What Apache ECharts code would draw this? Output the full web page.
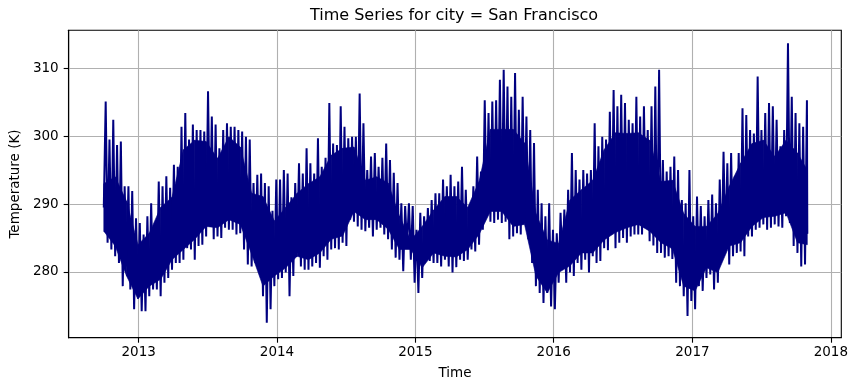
<!DOCTYPE html>
<html>
<head>
<meta charset="utf-8">
<script src="https://cdn.jsdelivr.net/npm/echarts@6/dist/echarts.min.js"></script>
<style>html,body{margin:0;padding:0;background:#fff}#c{width:858px;height:391px}</style>
</head>
<body>
<div id="c"></div>
<script>
// Hourly temperature trace: one low and one high per 10-day block
const startDate = '2012-10-01';
const stepDays = 10;
const endDate = '2017-10-31';
const endValue = 285.6;
const yearTicks = ['2013-01-01','2014-01-01','2015-01-01','2016-01-01','2017-01-01','2018-01-01'];
const tempTicks = [280, 290, 300, 310];

const highs = [
  305.1, 299.5, 302.4, 298.7, 299.2, 292.6, 292.6, 291.9, 287.9, 287.2, 285.5, 288.2, 290.1, 287.2, 293.3, 292.6, 294.1, 292.4, 295.8, 295.5,
  301.4, 303.4, 299.5, 301.7, 300.9, 300.9, 300.7, 306.6, 302.9, 301.7, 298.2, 300.9, 301.9, 301.4, 301.4, 300.9, 300.7, 299.9,
  299.5, 293.1, 294.3, 294.5, 293.1, 292.6, 289.0, 293.6, 293.6, 295.0, 294.5, 291.0, 293.1, 296.0, 294.5, 298.2, 296.0, 294.5, 299.7, 295.5,
  296.8, 304.9, 298.9, 298.7, 304.4, 301.4, 299.7, 299.9, 299.9, 306.3, 301.9, 295.0, 297.0, 297.5, 295.5, 296.8, 298.9, 296.5, 294.6,
  293.1, 290.1, 289.7, 290.1, 289.7, 286.2, 288.7, 288.2, 289.4, 290.6, 291.6, 291.6, 293.6, 292.6, 294.3, 292.6, 293.3, 295.5, 292.1, 288.9,
  292.6, 297.0, 294.8, 305.3, 303.4, 305.1, 305.3, 308.3, 309.8, 307.3, 305.8, 309.3, 303.9, 305.8, 302.9, 300.9, 299.0, 292.1,
  290.1, 288.2, 290.1, 286.2, 285.7, 288.7, 289.2, 292.1, 297.5, 295.0, 293.6, 295.0, 294.5, 295.0, 301.9, 298.5, 299.9, 299.5, 303.6, 306.8,
  304.4, 306.1, 304.9, 302.4, 301.9, 305.8, 302.9, 304.4, 300.9, 304.4, 307.3, 309.8, 296.5, 294.8, 295.5, 297.0, 295.0, 290.6,
  290.1, 295.0, 288.2, 291.1, 289.7, 288.2, 290.6, 291.4, 290.1, 293.6, 297.7, 296.0, 297.5, 294.1, 297.5, 304.1, 303.1, 300.9, 300.4, 308.8,
  300.9, 303.4, 304.9, 304.4, 302.4, 298.5, 300.9, 313.7, 305.8, 303.4, 301.9, 301.4, 305.3
];
const lows = [
  289.5, 284.3, 283.3, 282.3, 281.3, 277.9, 280.8, 277.4, 274.5, 276.4, 274.2, 274.2, 276.4, 277.4, 277.4, 276.4, 278.4, 279.1, 280.3, 281.3,
  281.3, 281.8, 283.5, 283.3, 281.8, 283.8, 284.0, 285.2, 286.7, 284.8, 285.2, 285.0, 286.5, 286.2, 286.2, 285.5, 285.7, 283.3,
  281.1, 280.8, 281.3, 280.1, 276.4, 272.5, 274.5, 277.9, 278.9, 279.1, 279.9, 276.4, 279.4, 282.8, 280.8, 280.3, 280.3, 280.8, 281.3, 280.6,
  282.3, 281.8, 283.3, 283.5, 283.3, 284.3, 283.8, 287.7, 287.4, 286.7, 286.2, 286.0, 286.5, 285.2, 286.2, 286.5, 285.5, 284.8, 283.3,
  282.1, 281.8, 280.1, 283.8, 281.8, 278.4, 276.9, 279.1, 281.8, 281.6, 281.3, 281.3, 280.8, 281.8, 280.8, 279.9, 280.7, 281.8, 281.6, 281.8,
  283.3, 283.0, 284.0, 286.2, 288.4, 287.4, 287.2, 287.7, 287.2, 287.4, 284.8, 285.2, 285.7, 285.5, 287.2, 284.8, 281.3, 277.9,
  276.9, 275.4, 276.9, 274.9, 274.5, 278.4, 280.8, 278.4, 279.9, 279.4, 281.3, 280.3, 281.8, 279.9, 282.3, 281.3, 281.6, 283.5, 283.2, 285.7,
  283.5, 284.3, 285.0, 284.3, 285.2, 285.5, 285.5, 285.5, 287.0, 284.5, 283.9, 282.8, 282.8, 282.1, 282.3, 281.9, 278.4, 277.9,
  276.4, 273.5, 275.7, 274.5, 277.9, 277.2, 279.1, 279.6, 277.4, 278.4, 282.1, 283.3, 281.1, 282.3, 282.8, 283.0, 282.3, 285.2, 285.2, 286.2,
  286.5, 287.0, 286.2, 286.5, 287.0, 286.7, 286.5, 288.2, 287.2, 283.8, 282.8, 280.8, 281.1
];

// Solid (fully overplotted) part of the trace, read every 30 days (last entry at endDate)
const coreStepDays = 30;
const coreTop = [
  293.0, 294.0, 290.4, 284.0, 285.7, 289.5, 291.0, 298.0, 299.4, 299.2, 296.7, 299.9, 298.4, 291.6, 291.1, 287.5,
  289.5, 291.6, 293.0, 294.0, 297.2, 298.2, 298.4, 293.5, 294.0, 293.1, 288.2, 284.7, 286.7, 289.1, 291.1, 291.1,
  289.5, 293.3, 301.0, 301.0, 301.0, 299.0, 288.6, 284.7, 284.2, 290.6, 292.1, 293.5, 298.0, 300.5, 300.4, 300.5,
  299.4, 293.3, 293.5, 288.6, 286.7, 286.7, 288.6, 292.6, 296.0, 298.9, 299.4, 297.0, 299.4, 297.5, 295.0
];
const coreBottom = [
  286.0, 283.8, 279.4, 276.0, 277.9, 278.9, 281.8, 283.3, 284.8, 286.7, 286.5, 287.7, 287.0, 282.6, 277.9, 279.4,
  280.6, 282.3, 281.8, 282.8, 284.8, 285.3, 288.9, 287.7, 287.7, 286.3, 283.3, 283.3, 280.6, 282.8, 282.3, 282.2,
  283.3, 285.5, 288.9, 288.9, 286.7, 287.0, 279.4, 276.9, 279.9, 280.9, 282.8, 282.8, 284.7, 285.8, 286.5, 287.0,
  286.0, 284.3, 283.4, 277.9, 277.2, 280.6, 279.9, 283.8, 284.3, 286.7, 288.0, 288.2, 288.7, 284.3, 284.0
];

const DAY = 86400000;
const t0 = Date.parse(startDate + 'T00:00:00Z');
const tEnd = Date.parse(endDate + 'T00:00:00Z');

// zig-zag trace: each block swings from its low to its high
const trace = [];
for (let k = 0; k < lows.length; k++) {
  trace.push([t0 + k * stepDays * DAY, lows[k]]);
  trace.push([t0 + (k * stepDays + stepDays / 2) * DAY, highs[k]]);
}
trace.push([tEnd, endValue]);

// solid core band, one quad per 30-day step
const coreTime = m => (m === coreTop.length - 1 ? tEnd : t0 + m * coreStepDays * DAY);
const core = [];
for (let m = 0; m + 1 < coreTop.length; m++) {
  core.push([coreTime(m), coreBottom[m], coreTop[m], coreTime(m + 1), coreBottom[m + 1], coreTop[m + 1]]);
}

const xTicks = yearTicks.map(d => Date.parse(d + 'T00:00:00Z'));
const FONT = 'DejaVu Sans';
const NAVY = '#000080';

const chart = echarts.init(document.getElementById('c'), null, {renderer: 'canvas'});
chart.setOption({
  animation: false,
  backgroundColor: '#fff',
  graphic: [{
    type: 'text', x: 454, y: 16,
    style: {text: 'Time Series for city = San Francisco', font: '16px "DejaVu Sans"', fill: '#000',
            textAlign: 'center', textVerticalAlign: 'middle'}
  }],
  grid: {left: 66.7, right: 16.7, top: 30.3, bottom: 53.3, show: true, borderColor: '#000', borderWidth: 1.1, backgroundColor: 'transparent'},
  xAxis: {
    type: 'value',
    min: Date.parse('2012-06-30T08:00:00Z'),
    max: Date.parse('2018-01-28T16:00:00Z'),
    name: 'Time', nameLocation: 'middle', nameGap: 29,
    nameTextStyle: {fontFamily: FONT, fontSize: 13.5, color: '#000'},
    axisLine: {show: true, onZero: false, lineStyle: {color: '#000', width: 1.1}},
    axisTick: {show: true, length: 5, customValues: xTicks, lineStyle: {color: '#000', width: 1.1}},
    axisLabel: {customValues: xTicks, fontFamily: FONT, fontSize: 13.5, color: '#000', margin: 8,
                formatter: v => String(new Date(v).getUTCFullYear()), hideOverlap: false,
                showMinLabel: true, showMaxLabel: true},
    splitLine: {show: true, lineStyle: {color: '#b0b0b0', width: 1.1}}
  },
  yAxis: {
    type: 'value',
    min: 270.3, max: 315.6,
    name: 'Temperature (K)', nameLocation: 'middle', nameGap: 44,
    nameTextStyle: {fontFamily: FONT, fontSize: 13.5, color: '#000'},
    axisLine: {show: true, onZero: false, lineStyle: {color: '#000', width: 1.1}},
    axisTick: {show: true, length: 5, customValues: tempTicks, lineStyle: {color: '#000', width: 1.1}},
    axisLabel: {customValues: tempTicks, fontFamily: FONT, fontSize: 13.5, color: '#000', margin: 10},
    splitLine: {show: true, lineStyle: {color: '#b0b0b0', width: 1.1}}
  },
  series: [{
    type: 'custom',
    silent: true,
    z: 2,
    data: core,
    encode: {x: [0, 3], y: [1, 2, 4, 5]},
    renderItem: (params, api) => {
      const p = [api.coord([api.value(0), api.value(1)]), api.coord([api.value(0), api.value(2)]),
                 api.coord([api.value(3), api.value(5)]), api.coord([api.value(3), api.value(4)])];
      return {type: 'polygon', shape: {points: p}, style: {fill: NAVY, stroke: NAVY, lineWidth: 0.6}};
    }
  }, {
    type: 'line',
    data: trace,
    showSymbol: false,
    sampling: 'none',
    silent: true,
    lineStyle: {color: NAVY, width: 2, join: 'miter'},
    z: 3
  }]
});
</script>
</body>
</html>
